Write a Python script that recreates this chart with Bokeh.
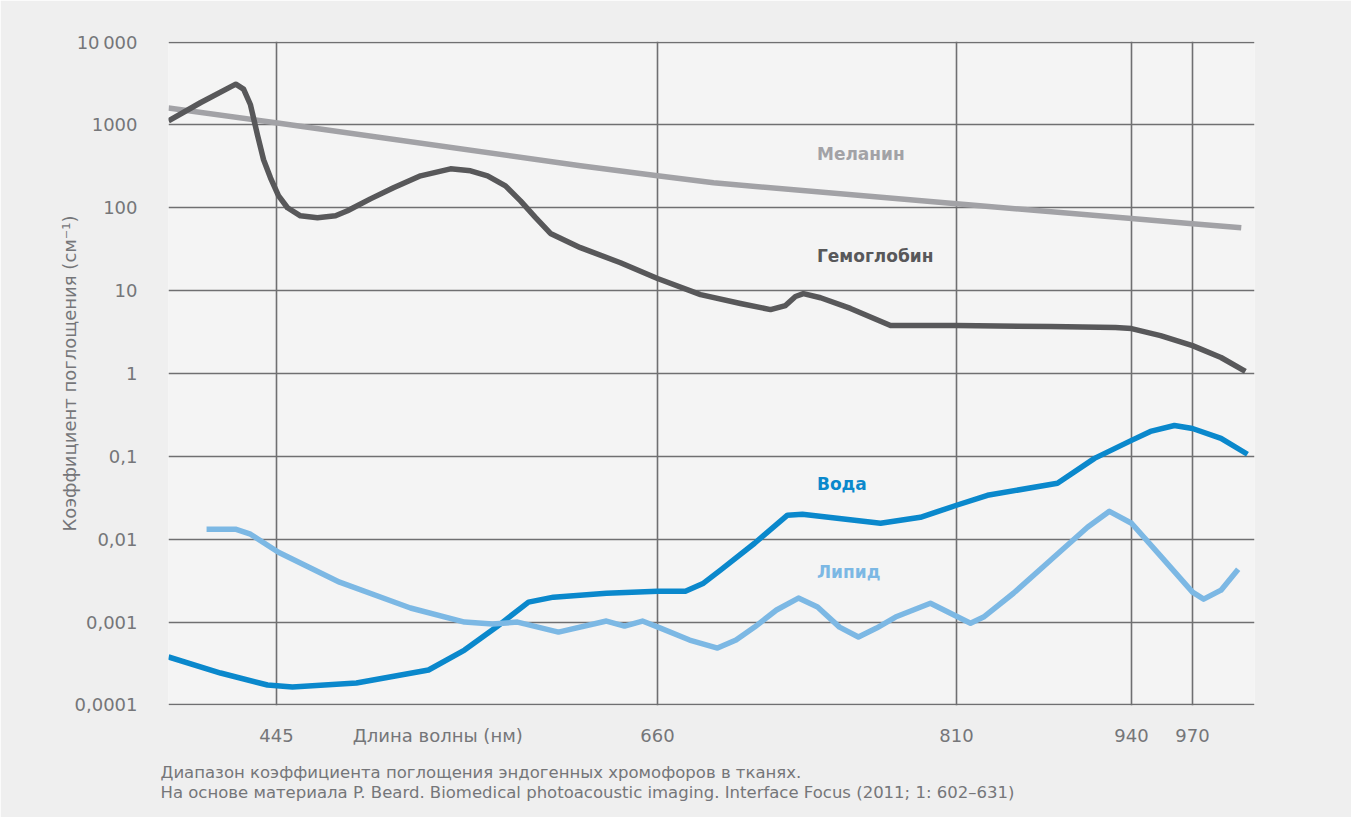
import numpy as np
from bokeh.plotting import figure
from bokeh.models import Range1d, FixedTicker, Label, Title, ColumnDataSource
from bokeh.embed import file_html
from bokeh.resources import INLINE

# ---------------- data ----------------
# Schematic (non-linear) wavelength axis of the original figure, nm -> axis position
scale_nm = [384, 445, 660, 810, 940, 970, 1000]
scale_pos = [0, 108, 489, 788, 963, 1024, 1086]

wl_ticks = [445, 660, 810, 940, 970]
x_title = "Длина волны (нм)"
x_title_nm = 536

y_ticks = [1e-4, 1e-3, 1e-2, 1e-1, 1.0, 10.0, 100.0, 1000.0, 10000.0]
y_tick_labels = ["0,0001", "0,001", "0,01", "0,1", "1", "10", "100", "1000", "10\u2009000"]
y_title = "Коэффициент поглощения (см⁻¹)"

melanin_nm = [384, 445.6, 616.5, 660, 688.1, 810, 940, 970, 993.6]
melanin_val = [1600, 1057, 321, 243, 200, 112, 74, 64.3, 57.4]

hb_nm = [384, 402, 422, 426.4, 430.3, 434.3, 437.7, 441.6, 446.1, 451.2, 458.5, 468.1,
         478.3, 485.1, 498, 511, 526.3, 543.2, 554.5, 564.1, 574.2, 582.7, 591.2, 599.6,
         616.5, 639.1, 660, 681.6, 701.6, 716.7, 724.2, 729.2, 733.2, 741.8, 756.8, 776.9,
         810, 879.8, 928.1, 940, 954.3, 970, 983.8, 995.6]
hb_val = [1120, 1850, 3100, 2700, 1750, 750, 380, 230, 140, 100, 80, 76,
          80, 92, 128, 174, 243, 295, 279, 243, 184, 121, 76, 49,
          33, 21.7, 14, 8.95, 7.0, 5.9, 6.6, 8.5, 9.2, 8.2, 6.1, 3.8,
          3.8, 3.68, 3.58, 3.48, 2.87, 2.17, 1.56, 1.06]

water_nm = [384, 413.4, 439.9, 454, 490.1, 530.8, 551.1, 569.1, 587.2, 601.3, 631.2, 660,
            674, 683.1, 691.6, 708.7, 725.2, 732.7, 771.9, 791.9, 810, 833, 885, 912.5,
            940, 949.3, 961.1, 970, 983.8, 996.6]
water_val = [3.8e-4, 2.43e-4, 1.74e-4, 1.65e-4, 1.84e-4, 2.64e-4, 4.6e-4, 8.7e-4, 1.74e-3,
             2.0e-3, 2.23e-3, 2.36e-3, 2.36e-3, 2.95e-3, 4.24e-3, 8.95e-3, 0.0195, 0.020,
             0.0156, 0.0184, 0.0257, 0.0339, 0.0473, 0.0946, 0.156, 0.2, 0.236, 0.217,
             0.165, 0.106]

lipid_nm = [405.5, 421.8, 430.3, 446.1, 480.6, 520.6, 551.1, 566.9, 581, 604.1, 631.2,
            641.4, 651.5, 661.5, 676.1, 690.1, 699.4, 708.7, 719.7, 730.7, 740.3, 751.3,
            760.8, 769.9, 779.4, 796.9, 820.4, 830.1, 852.3, 879.8, 907.3, 923.6, 940,
            954.8, 970, 975.4, 983.8, 992.1]
lipid_val = [0.0132, 0.0132, 0.0115, 6.97e-3, 3.03e-3, 1.48e-3, 1.0e-3, 9.46e-4, 1.0e-3,
             7.58e-4, 1.03e-3, 8.95e-4, 1.03e-3, 8.47e-4, 6.07e-4, 4.86e-4, 6.07e-4, 8.7e-4,
             1.40e-3, 1.95e-3, 1.52e-3, 8.7e-4, 6.6e-4, 8.47e-4, 1.15e-3, 1.69e-3, 9.7e-4,
             1.15e-3, 2.23e-3, 5.58e-3, 0.01396, 0.0217, 0.0156, 6.07e-3, 2.3e-3, 1.89e-3,
             2.43e-3, 4.35e-3]

series_names = ["Меланин", "Гемоглобин", "Вода", "Липид"]
series_colors = ["#a2a2a6", "#58585a", "#0a88cc", "#7cb8e4"]
label_nm = 740
label_val = [447, 26.5, 0.047, 0.004]

caption = ("Диапазон коэффициента поглощения эндогенных хромофоров в тканях.\n"
           "На основе материала P. Beard. Biomedical photoacoustic imaging. Interface Focus (2011; 1: 602–631)")


def to_axis(nm):
    return [float(v) for v in np.interp(nm, scale_nm, scale_pos)]


FONT = "DejaVu Sans"
TXT = "#757679"

p = figure(width=1351, height=817,
           x_range=Range1d(scale_pos[0], scale_pos[-1]),
           y_range=Range1d(0.985e-4, 1.015e4), y_axis_type="log",
           output_backend="svg", toolbar_location=None,
           min_border_left=168, min_border_right=97, min_border_top=41, min_border_bottom=112)
p.background_fill_color = "#f4f4f4"
p.border_fill_color = "#efefef"
p.outline_line_color = None

# grids
tick_pos = to_axis(wl_ticks)
p.xgrid.ticker = FixedTicker(ticks=tick_pos)
p.ygrid.ticker = FixedTicker(ticks=y_ticks)
for g in (p.xgrid, p.ygrid):
    g.grid_line_color = "#6f6f71"
    g.grid_line_width = 1.6
    g.grid_line_alpha = 1.0

# x axis
xt_pos = to_axis([x_title_nm])[0]
p.xaxis.ticker = FixedTicker(ticks=tick_pos + [xt_pos])
ov = {tp: str(w) for tp, w in zip(tick_pos, wl_ticks)}
ov[xt_pos] = x_title
p.xaxis.major_label_overrides = ov

# y axis
p.yaxis.ticker = FixedTicker(ticks=y_ticks)
p.yaxis.major_label_overrides = dict(zip(y_ticks, y_tick_labels))
p.yaxis.axis_label = y_title
p.yaxis.major_label_standoff = 25
p.yaxis.axis_label_standoff = -8
p.yaxis.axis_label_text_font = FONT
p.yaxis.axis_label_text_font_size = "18px"
p.yaxis.axis_label_text_font_style = "normal"
p.yaxis.axis_label_text_color = TXT
p.xaxis.major_label_standoff = 13

for ax in (p.xaxis, p.yaxis):
    ax.axis_line_color = None
    ax.major_tick_line_color = None
    ax.minor_tick_line_color = None
    ax.major_label_text_font = FONT
    ax.major_label_text_font_size = "18px"
    ax.major_label_text_color = TXT

# curves
curves = [(melanin_nm, melanin_val), (hb_nm, hb_val), (water_nm, water_val), (lipid_nm, lipid_val)]
for (nm, val), col in zip(curves, series_colors):
    src = ColumnDataSource(dict(x=to_axis(nm), y=val))
    p.line("x", "y", source=src, line_color=col, line_width=5.5,
           line_join="round", line_cap="butt")

lx = to_axis([label_nm])[0]
for name, col, yv in zip(series_names, series_colors, label_val):
    p.add_layout(Label(x=lx, y=yv, text=name, text_color=col, text_font=FONT,
                       text_font_size="17px", text_font_style="bold",
                       text_baseline="middle", text_align="left"))

p.add_layout(Title(text=caption, align="left", text_font=FONT, text_font_size="16.5px",
                   text_font_style="normal", text_color=TXT, offset=-8,
                   standoff=24, text_line_height=1.1), "below")

open("out.html", "w").write(file_html(p, INLINE))
